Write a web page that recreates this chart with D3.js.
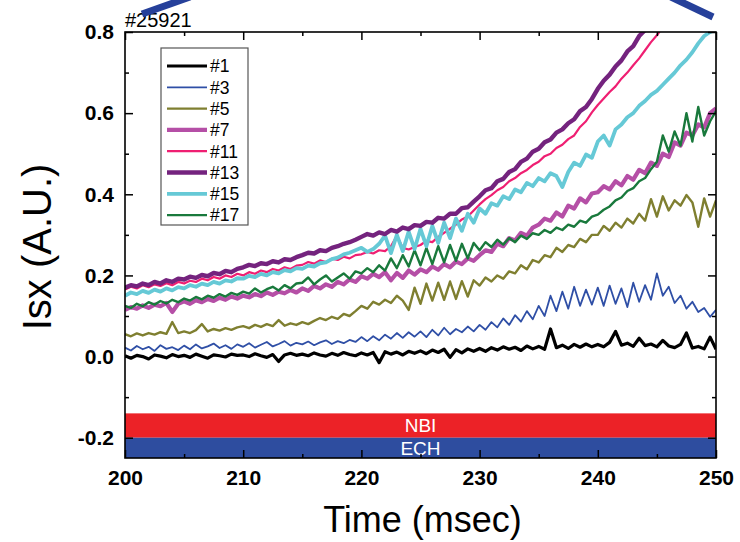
<!DOCTYPE html>
<html>
<head>
<meta charset="utf-8">
<script src="https://cdn.jsdelivr.net/npm/d3@7"></script>
<style>
  body { margin: 0; background: #fff; }
  svg text { font-family: "Liberation Sans", Arial, Helvetica, sans-serif; }
</style>
</head>
<body>
<svg id="chart" width="740" height="542"></svg>
<script>
// Sampling of the probe signals (msec)
const timeStart = 200;
const timeStep = 0.5;

// Isx traces (A.U.), one value per sample
const s1 = [
  0.002, -0.004, 0.003, 0.000, -0.006, 0.004, 0.001, -0.003, 0.005, 0.000,
  0.003, -0.002, 0.006, 0.001, -0.004, 0.004, 0.002, -0.001, 0.006, 0.003,
  0.004, 0.000, 0.007, 0.002, -0.002, 0.005, -0.012, 0.004, 0.008, 0.003,
  0.006, 0.002, 0.009, 0.004, 0.001, 0.008, 0.003, 0.010, 0.005, 0.002,
  0.009, 0.004, 0.010, -0.015, 0.012, 0.006, 0.011, 0.004, 0.013, 0.008,
  0.014, 0.007, 0.016, 0.010, 0.018, -0.002, 0.017, 0.009, 0.019, 0.013,
  0.020, 0.013, 0.022, 0.016, 0.024, 0.018, 0.023, 0.015, 0.026, 0.019,
  0.025, 0.018, 0.068, 0.022, 0.028, 0.020, 0.030, 0.023, 0.031, 0.024,
  0.030, 0.024, 0.035, 0.062, 0.028, 0.033, 0.025, 0.045, 0.027, 0.031,
  0.024, 0.040, 0.026, 0.022, 0.030, 0.058, 0.021, 0.025, 0.019, 0.048,
  0.018
];
const s3 = [
  0.022, 0.015, 0.026, 0.018, 0.024, 0.014, 0.028, 0.019, 0.023, 0.016,
  0.027, 0.018, 0.030, 0.020, 0.025, 0.032, 0.021, 0.028, 0.019, 0.030,
  0.024, 0.033, 0.022, 0.029, 0.036, 0.025, 0.031, 0.038, 0.027, 0.034,
  0.030, 0.037, 0.028, 0.035, 0.040, 0.031, 0.038, 0.033, 0.041, 0.036,
  0.048, 0.038, 0.050, 0.040, 0.054, 0.044, 0.058, 0.046, 0.060, 0.049,
  0.062, 0.048, 0.066, 0.052, 0.071, 0.055, 0.068, 0.060, 0.074, 0.062,
  0.078, 0.066, 0.085, 0.072, 0.094, 0.078, 0.102, 0.086, 0.112, 0.092,
  0.125, 0.100, 0.150, 0.112, 0.160, 0.118, 0.172, 0.125, 0.165, 0.128,
  0.170, 0.125, 0.175, 0.130, 0.168, 0.122, 0.182, 0.135, 0.176, 0.140,
  0.205, 0.150, 0.172, 0.132, 0.150, 0.118, 0.135, 0.110, 0.120, 0.098,
  0.115
];
const s5 = [
  0.055, 0.050, 0.057, 0.052, 0.058, 0.054, 0.060, 0.056, 0.085, 0.058,
  0.062, 0.058, 0.065, 0.080, 0.062, 0.068, 0.064, 0.070, 0.066, 0.072,
  0.075, 0.070, 0.078, 0.073, 0.080, 0.075, 0.090, 0.076, 0.082, 0.078,
  0.085, 0.080, 0.088, 0.095, 0.090, 0.098, 0.093, 0.105, 0.100, 0.112,
  0.125, 0.118, 0.135, 0.128, 0.140, 0.132, 0.150, 0.138, 0.115, 0.170,
  0.130, 0.180, 0.138, 0.182, 0.140, 0.185, 0.142, 0.186, 0.148, 0.188,
  0.175, 0.195, 0.185, 0.200, 0.192, 0.210, 0.205, 0.225, 0.215, 0.238,
  0.232, 0.250, 0.245, 0.268, 0.258, 0.275, 0.270, 0.290, 0.282, 0.300,
  0.300, 0.322, 0.310, 0.330, 0.318, 0.340, 0.328, 0.352, 0.335, 0.388,
  0.345, 0.395, 0.360, 0.385, 0.372, 0.398, 0.380, 0.320, 0.390, 0.345,
  0.385
];
const s7 = [
  0.115, 0.122, 0.118, 0.126, 0.120, 0.128, 0.124, 0.132, 0.110, 0.130,
  0.136, 0.130, 0.139, 0.134, 0.142, 0.137, 0.145, 0.140, 0.148, 0.143,
  0.150, 0.146, 0.154, 0.149, 0.158, 0.152, 0.160, 0.156, 0.164, 0.158,
  0.168, 0.162, 0.174, 0.168, 0.178, 0.172, 0.184, 0.178, 0.190, 0.184,
  0.198, 0.192, 0.204, 0.196, 0.208, 0.188, 0.206, 0.194, 0.212, 0.202,
  0.215, 0.208, 0.222, 0.214, 0.228, 0.220, 0.234, 0.228, 0.242, 0.236,
  0.250, 0.262, 0.258, 0.278, 0.272, 0.292, 0.286, 0.305, 0.298, 0.318,
  0.325, 0.340, 0.335, 0.355, 0.345, 0.372, 0.365, 0.390, 0.380, 0.402,
  0.405, 0.420, 0.412, 0.432, 0.422, 0.445, 0.436, 0.460, 0.452, 0.478,
  0.470, 0.500, 0.492, 0.528, 0.520, 0.552, 0.545, 0.572, 0.565, 0.600,
  0.612
];
const s11 = [
  0.165, 0.172, 0.168, 0.176, 0.171, 0.178, 0.174, 0.181, 0.176, 0.184,
  0.180, 0.187, 0.184, 0.192, 0.188, 0.196, 0.192, 0.200, 0.196, 0.204,
  0.200, 0.208, 0.204, 0.212, 0.208, 0.216, 0.212, 0.220, 0.216, 0.224,
  0.226, 0.233, 0.229, 0.237, 0.233, 0.241, 0.238, 0.246, 0.242, 0.250,
  0.252, 0.258, 0.254, 0.262, 0.260, 0.272, 0.298, 0.268, 0.264, 0.270,
  0.275, 0.285, 0.282, 0.295, 0.305, 0.315, 0.325, 0.338, 0.345, 0.360,
  0.375, 0.388, 0.398, 0.410, 0.418, 0.432, 0.440, 0.452, 0.460, 0.472,
  0.480, 0.494, 0.500, 0.514, 0.522, 0.536, 0.545, 0.566, 0.580, 0.602,
  0.620, 0.636, 0.652, 0.666, 0.685, 0.700, 0.718, 0.735, 0.755, 0.775,
  0.792, 0.812, 0.830, 0.848, 0.862, 0.880, 0.895, 0.910, 0.925, 0.940,
  0.955
];
const s13 = [
  0.170, 0.176, 0.173, 0.180, 0.176, 0.184, 0.180, 0.188, 0.184, 0.192,
  0.190, 0.197, 0.194, 0.201, 0.198, 0.206, 0.203, 0.211, 0.208, 0.216,
  0.220, 0.226, 0.223, 0.230, 0.228, 0.235, 0.232, 0.240, 0.238, 0.245,
  0.250, 0.256, 0.254, 0.262, 0.260, 0.268, 0.272, 0.278, 0.282, 0.288,
  0.295, 0.302, 0.298, 0.306, 0.302, 0.312, 0.308, 0.318, 0.314, 0.324,
  0.322, 0.332, 0.330, 0.342, 0.340, 0.352, 0.352, 0.366, 0.368, 0.382,
  0.395, 0.410, 0.415, 0.432, 0.438, 0.455, 0.462, 0.480, 0.488, 0.505,
  0.512, 0.528, 0.535, 0.552, 0.560, 0.575, 0.585, 0.605, 0.615, 0.635,
  0.660, 0.680, 0.695, 0.715, 0.730, 0.752, 0.765, 0.790, 0.805, 0.825,
  0.842, 0.860, 0.875, 0.890, 0.905, 0.920, 0.935, 0.950, 0.965, 0.980,
  0.995
];
const s15 = [
  0.150, 0.158, 0.154, 0.162, 0.157, 0.165, 0.160, 0.168, 0.163, 0.171,
  0.168, 0.176, 0.172, 0.180, 0.176, 0.184, 0.180, 0.188, 0.185, 0.193,
  0.192, 0.199, 0.196, 0.204, 0.200, 0.208, 0.205, 0.213, 0.210, 0.218,
  0.216, 0.224, 0.222, 0.230, 0.232, 0.240, 0.244, 0.252, 0.256, 0.262,
  0.268, 0.258, 0.265, 0.278, 0.298, 0.255, 0.300, 0.260, 0.308, 0.265,
  0.315, 0.272, 0.322, 0.280, 0.330, 0.292, 0.340, 0.310, 0.352, 0.330,
  0.365, 0.352, 0.378, 0.372, 0.395, 0.388, 0.412, 0.405, 0.428, 0.420,
  0.440, 0.432, 0.452, 0.445, 0.418, 0.455, 0.478, 0.470, 0.498, 0.490,
  0.530, 0.545, 0.520, 0.560, 0.572, 0.590, 0.600, 0.618, 0.630, 0.645,
  0.655, 0.670, 0.685, 0.700, 0.718, 0.732, 0.750, 0.772, 0.790, 0.800,
  0.805
];
const s17 = [
  0.125, 0.120, 0.130, 0.124, 0.134, 0.128, 0.137, 0.131, 0.140, 0.134,
  0.143, 0.138, 0.147, 0.141, 0.150, 0.145, 0.154, 0.148, 0.157, 0.152,
  0.160, 0.155, 0.168, 0.158, 0.166, 0.172, 0.163, 0.176, 0.168, 0.180,
  0.182, 0.195, 0.178, 0.190, 0.200, 0.185, 0.195, 0.205, 0.192, 0.210,
  0.205, 0.218, 0.208, 0.225, 0.212, 0.242, 0.218, 0.250, 0.222, 0.262,
  0.225, 0.268, 0.228, 0.272, 0.232, 0.275, 0.236, 0.278, 0.242, 0.280,
  0.262, 0.282, 0.270, 0.288, 0.276, 0.292, 0.282, 0.298, 0.290, 0.304,
  0.300, 0.312, 0.305, 0.318, 0.312, 0.325, 0.320, 0.335, 0.330, 0.345,
  0.350, 0.362, 0.370, 0.385, 0.392, 0.408, 0.415, 0.432, 0.440, 0.462,
  0.480, 0.545, 0.505, 0.555, 0.520, 0.600, 0.530, 0.615, 0.545, 0.580,
  0.605
];

const seriesNames = ["#1", "#3", "#5", "#7", "#11", "#13", "#15", "#17"];
const seriesValues = [s1, s3, s5, s7, s11, s13, s15, s17];

// Heating phases shown as bands below the traces
const heatingNames = ["NBI", "ECH"];
const heatingStart = [200, 200];
const heatingEnd = [250, 250];
const heatingTop = [-0.14, -0.2];
const heatingBottom = [-0.2, -0.25];

// Axis ticks
const xTicks = [200, 210, 220, 230, 240, 250];
const xMinorTicks = [205, 215, 225, 235, 245];
const yTicks = [-0.2, 0.0, 0.2, 0.4, 0.6, 0.8];
const yMinorTicks = [-0.1, 0.1, 0.3, 0.5, 0.7];

const shotLabel = "#25921";

// ---- styling ----
const lineColors = ["#000000", "#2f4fa6", "#7f7f30", "#b54fa6", "#ef1f72", "#74237e", "#66c9d6", "#19793c"];
const lineWidths = [3.2, 1.8, 2.4, 4.2, 2.2, 4.4, 3.8, 2.4];
const drawOrder = [1, 0, 2, 3, 4, 7, 6, 5];
const bandColors = ["#ec2227", "#2e4d9f"];

const svg = d3.select("#chart");
const plotL = 125, plotR = 716, plotT = 32, plotB = 458;

const x = d3.scaleLinear().domain([200, 250]).range([plotL, plotR]);
const y = d3.scaleLinear().domain([-0.25, 0.8]).range([plotB, plotT]);

svg.append("defs").append("clipPath").attr("id", "plotClip")
  .append("rect").attr("x", plotL).attr("y", plotT)
  .attr("width", plotR - plotL).attr("height", plotB - plotT);

// heating bands
const bands = svg.append("g");
heatingNames.forEach((name, i) => {
  bands.append("rect")
    .attr("x", x(heatingStart[i]))
    .attr("y", y(heatingTop[i]))
    .attr("width", x(heatingEnd[i]) - x(heatingStart[i]))
    .attr("height", y(heatingBottom[i]) - y(heatingTop[i]))
    .attr("fill", bandColors[i]);
  bands.append("text")
    .attr("x", x((heatingStart[i] + heatingEnd[i]) / 2))
    .attr("y", y((heatingTop[i] + heatingBottom[i]) / 2))
    .attr("dy", "0.36em")
    .attr("text-anchor", "middle")
    .attr("fill", "#fff")
    .attr("font-size", 19)
    .text(name);
});

// traces
const line = d3.line()
  .x((d, i) => x(timeStart + i * timeStep))
  .y(d => y(d));
const traces = svg.append("g").attr("clip-path", "url(#plotClip)");
drawOrder.forEach(k => {
  traces.append("path")
    .datum(seriesValues[k])
    .attr("d", line)
    .attr("fill", "none")
    .attr("stroke", lineColors[k])
    .attr("stroke-width", lineWidths[k])
    .attr("stroke-linejoin", "round");
});

// axes with inward ticks on all four sides
const fmt = v => d3.format(".1f")(v).replace("\u2212", "-");
function styleAxis(g) {
  g.select(".domain").remove();
  g.selectAll(".tick line").attr("stroke", "#000").attr("stroke-width", 1.5);
}
function styleLabels(g) {
  g.selectAll("text").attr("font-size", 21).attr("font-weight", "bold").attr("fill", "#000")
    .attr("font-family", "'Liberation Sans', Arial, sans-serif");
}
svg.append("g").attr("transform", `translate(0,${plotB})`)
  .call(d3.axisBottom(x).tickValues(xTicks).tickSize(-8).tickPadding(12).tickFormat(d3.format("d")))
  .call(styleAxis).call(styleLabels);
svg.append("g").attr("transform", `translate(0,${plotB})`)
  .call(d3.axisBottom(x).tickValues(xMinorTicks).tickSize(-4).tickFormat(""))
  .call(styleAxis);
svg.append("g").attr("transform", `translate(0,${plotT})`)
  .call(d3.axisTop(x).tickValues(xTicks).tickSize(-8).tickFormat(""))
  .call(styleAxis);
svg.append("g").attr("transform", `translate(0,${plotT})`)
  .call(d3.axisTop(x).tickValues(xMinorTicks).tickSize(-4).tickFormat(""))
  .call(styleAxis);
svg.append("g").attr("transform", `translate(${plotL},0)`)
  .call(d3.axisLeft(y).tickValues(yTicks).tickSize(-8).tickPadding(11).tickFormat(fmt))
  .call(styleAxis).call(styleLabels);
svg.append("g").attr("transform", `translate(${plotL},0)`)
  .call(d3.axisLeft(y).tickValues(yMinorTicks).tickSize(-4).tickFormat(""))
  .call(styleAxis);
svg.append("g").attr("transform", `translate(${plotR},0)`)
  .call(d3.axisRight(y).tickValues(yTicks).tickSize(-8).tickFormat(""))
  .call(styleAxis);
svg.append("g").attr("transform", `translate(${plotR},0)`)
  .call(d3.axisRight(y).tickValues(yMinorTicks).tickSize(-4).tickFormat(""))
  .call(styleAxis);

svg.append("rect")
  .attr("x", plotL).attr("y", plotT)
  .attr("width", plotR - plotL).attr("height", plotB - plotT)
  .attr("fill", "none").attr("stroke", "#000").attr("stroke-width", 1.6);

// axis titles
svg.append("text")
  .attr("x", (plotL + plotR) / 2 + 2).attr("y", 532)
  .attr("text-anchor", "middle").attr("font-size", 36)
  .text("Time (msec)");
svg.append("text")
  .attr("transform", `translate(51,${(plotT + plotB) / 2 + 2}) rotate(-90)`)
  .attr("text-anchor", "middle").attr("font-size", 40)
  .text("Isx (A.U.)");

// shot number
svg.append("text")
  .attr("x", plotL).attr("y", 27)
  .attr("font-size", 20)
  .text(shotLabel);

// decorative connector strokes at the top edge
svg.append("line").attr("x1", 142).attr("y1", 14).attr("x2", 190).attr("y2", -3)
  .attr("stroke", "#26409a").attr("stroke-width", 7);
svg.append("line").attr("x1", 671).attr("y1", -3).attr("x2", 713).attr("y2", 17)
  .attr("stroke", "#26409a").attr("stroke-width", 7);

// legend
const legend = svg.append("g");
legend.append("rect")
  .attr("x", 161).attr("y", 48).attr("width", 87).attr("height", 177)
  .attr("fill", "#fff").attr("stroke", "#555").attr("stroke-width", 1.2);
seriesNames.forEach((name, k) => {
  const ly = 66 + k * 21.3;
  legend.append("line")
    .attr("x1", 167).attr("x2", 207).attr("y1", ly).attr("y2", ly)
    .attr("stroke", lineColors[k]).attr("stroke-width", lineWidths[k]);
  legend.append("text")
    .attr("x", 210).attr("y", ly).attr("dy", "0.36em")
    .attr("font-size", 17.5)
    .text(name);
});
</script>
</body>
</html>
